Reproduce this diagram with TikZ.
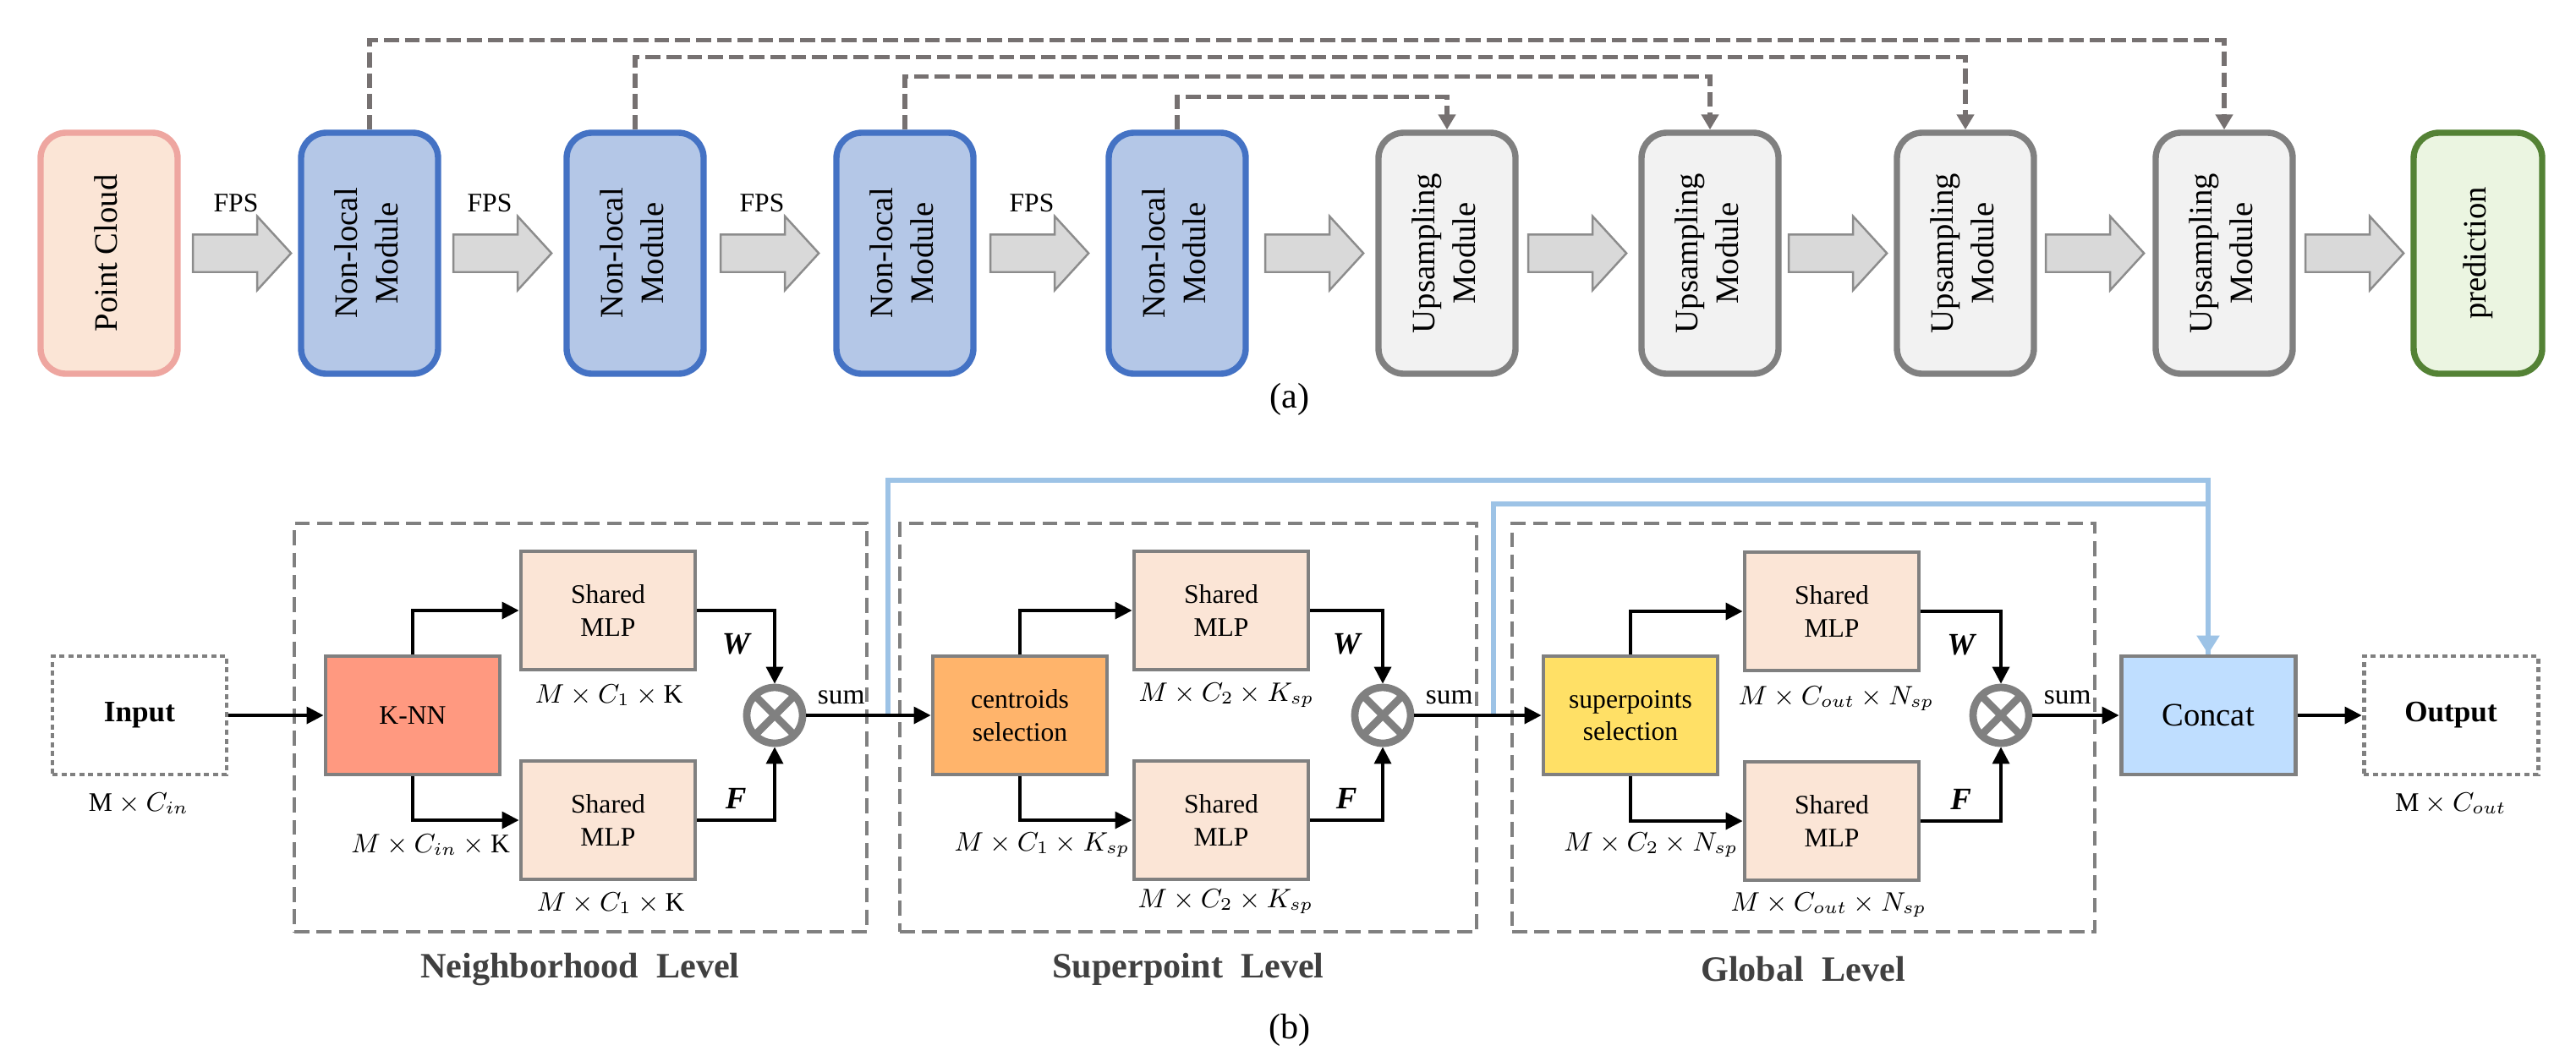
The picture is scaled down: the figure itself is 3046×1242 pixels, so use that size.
\documentclass[tikz,border=0pt]{standalone}
\usepackage{fontspec}
\setmainfont{Liberation Serif}
\usepackage{graphicx}
\usetikzlibrary{arrows.meta,shapes.arrows}

\definecolor{pcdraw}{RGB}{238,166,160}
\definecolor{pcfill}{RGB}{251,229,214}
\definecolor{nldraw}{RGB}{68,114,196}
\definecolor{nlfill}{RGB}{180,199,231}
\definecolor{updraw}{RGB}{128,128,128}
\definecolor{upfill}{RGB}{242,242,242}
\definecolor{preddraw}{RGB}{84,130,53}
\definecolor{predfill}{RGB}{235,245,225}
\definecolor{arrdraw}{RGB}{140,140,140}
\definecolor{arrfill}{RGB}{217,217,217}
\definecolor{skipgray}{RGB}{118,113,113}
\definecolor{boxgray}{RGB}{128,128,128}
\definecolor{mlpfill}{RGB}{251,229,214}
\definecolor{knnfill}{RGB}{255,153,128}
\definecolor{cenfill}{RGB}{255,180,107}
\definecolor{spfill}{RGB}{255,224,102}
\definecolor{catfill}{RGB}{191,222,255}
\definecolor{catblue}{RGB}{157,195,230}
\definecolor{lvltext}{RGB}{64,64,64}

\newcommand{\vtext}[1]{\rotatebox{90}{\begin{tabular}{@{}c@{}}#1\end{tabular}}}

\begin{document}
\begin{tikzpicture}[x=0.1mm,y=-0.1mm,
  mod/.style={draw,line width=2.1pt,rounded corners=3mm,minimum width=1.62cm,minimum height=2.85cm,inner sep=0pt,font=\fontsize{11}{13.6}\selectfont},
  fat/.style={single arrow,draw=arrdraw,fill=arrfill,line width=0.7pt,minimum height=1.16cm,inner xsep=0pt,inner ysep=0.21cm,single arrow head extend=0.215cm,single arrow tip angle=95},
  fps/.style={font=\fontsize{9}{11}\selectfont},
  skiparr/.style={skipgray,line width=1.5pt,dash pattern=on 5pt off 2pt,-{Triangle[length=0.18cm,width=0.2cm]}},
  blk/.style={draw=boxgray,line width=1.4pt,minimum width=2.06cm,minimum height=1.4cm,align=center,inner sep=1pt,font=\fontsize{9}{11}\selectfont},
  io/.style={draw=boxgray,line width=1.4pt,dash pattern=on 1.7pt off 1.3pt,minimum width=2.06cm,minimum height=1.4cm,font=\fontsize{10}{12}\selectfont\bfseries},
  mul/.style={circle,draw=boxgray,fill=white,line width=2.5pt,minimum size=0.66cm,inner sep=0pt,
    path picture={\draw[boxgray,line width=2.5pt] (path picture bounding box.north west) -- (path picture bounding box.south east)
      (path picture bounding box.south west) -- (path picture bounding box.north east);}},
  lvl/.style={draw=boxgray,line width=1.3pt,dash pattern=on 5pt off 2.5pt},
  lvlname/.style={text=lvltext,font=\fontsize{12}{14}\selectfont\bfseries},
  dim/.style={font=\fontsize{9}{11}\selectfont},
  wf/.style={font=\fontsize{10.5}{12}\selectfont\bfseries\itshape},
  sumt/.style={font=\fontsize{9.5}{11}\selectfont},
  con/.style={line width=1pt,-{Triangle[length=0.2cm,width=0.2cm]}},
  catline/.style={catblue,line width=1.7pt},
]
\useasboundingbox (0,0) rectangle (3046,1242);

% (a) encoder / decoder
\node[mod,draw=pcdraw,fill=pcfill] (pc) at (129,299.5) {\vtext{Point Cloud}};
\node[mod,draw=nldraw,fill=nlfill] (nl1) at (437,299.5) {\vtext{Non-local\\Module}};
\node[mod,draw=nldraw,fill=nlfill] (nl2) at (751,299.5) {\vtext{Non-local\\Module}};
\node[mod,draw=nldraw,fill=nlfill] (nl3) at (1070,299.5) {\vtext{Non-local\\Module}};
\node[mod,draw=nldraw,fill=nlfill] (nl4) at (1392,299.5) {\vtext{Non-local\\Module}};
\node[mod,draw=updraw,fill=upfill] (up1) at (1711,299.5) {\vtext{Upsampling\\Module}};
\node[mod,draw=updraw,fill=upfill] (up2) at (2022,299.5) {\vtext{Upsampling\\Module}};
\node[mod,draw=updraw,fill=upfill] (up3) at (2324,299.5) {\vtext{Upsampling\\Module}};
\node[mod,draw=updraw,fill=upfill] (up4) at (2630,299.5) {\vtext{Upsampling\\Module}};
\node[mod,draw=preddraw,fill=predfill,minimum width=1.52cm] (pred) at (2930,299.5) {\vtext{prediction}};

\node[fat] (a1) at (276,299.5) {};
\node[fat] (a2) at (584,299.5) {};
\node[fat] (a3) at (900,299.5) {};
\node[fat] (a4) at (1219,299.5) {};
\node[fat] (a5) at (1544,299.5) {};
\node[fat] (a6) at (1855,299.5) {};
\node[fat] (a7) at (2163,299.5) {};
\node[fat] (a8) at (2467,299.5) {};
\node[fat] (a9) at (2774,299.5) {};
\node[fps] (fps1) at (279,240) {FPS};
\node[fps] (fps2) at (579,240) {FPS};
\node[fps] (fps3) at (901,240) {FPS};
\node[fps] (fps4) at (1220,240) {FPS};

\draw[skiparr] (nl1.north) -- ++(0,-106) -| (up4.north);
\draw[skiparr] (nl2.north) -- ++(0,-86) -| (up3.north);
\draw[skiparr] (nl3.north) -- ++(0,-63) -| (up2.north);
\draw[skiparr] (nl4.north) -- ++(0,-39) -| (up1.north);

\node[font=\fontsize{12}{14}\selectfont] (capa) at (1525,472) {(a)};

% (b) non-local module
\node[lvl,minimum width=6.77cm,minimum height=4.83cm] (lvl1) at (686.5,860.5) {};
\node[lvl,minimum width=6.82cm,minimum height=4.83cm] (lvl2) at (1405,860.5) {};
\node[lvl,minimum width=6.89cm,minimum height=4.83cm] (lvl3) at (2132.5,860.5) {};
\node[lvlname] (n1) at (686,1146) {Neighborhood\ \ Level};
\node[lvlname] (n2) at (1405,1146) {Superpoint\ \ Level};
\node[lvlname] (n3) at (2132,1146) {Global\ \ Level};

\node[io] (input) at (165,846) {Input};
\node[blk,fill=knnfill] (knn) at (488,846) {K-NN};
\node[blk,fill=mlpfill] (mlpw1) at (719,722) {Shared\\MLP};
\node[blk,fill=mlpfill] (mlpf1) at (719,970) {Shared\\MLP};
\node[mul] (mul1) at (916,846) {};
\node[blk,fill=cenfill] (cen) at (1206,846) {centroids\\selection};
\node[blk,fill=mlpfill] (mlpw2) at (1444,722) {Shared\\MLP};
\node[blk,fill=mlpfill] (mlpf2) at (1444,970) {Shared\\MLP};
\node[mul] (mul2) at (1635,846) {};
\node[blk,fill=spfill] (spsel) at (1928,846) {superpoints\\selection};
\node[blk,fill=mlpfill] (mlpw3) at (2166,723) {Shared\\MLP};
\node[blk,fill=mlpfill] (mlpf3) at (2166,971) {Shared\\MLP};
\node[mul] (mul3) at (2366,846) {};
\node[blk,fill=catfill,font=\fontsize{11}{13}\selectfont] (concat) at (2611,846) {Concat};
\node[io] (output) at (2898,846) {Output};

\node[dim] (din) at (164,950) {$\mathrm{M}\times C_{in}$};
\node[dim] (d1a) at (720,822) {$M\times C_1\times\mathrm{K}$};
\node[dim] (d1b) at (509,999) {$M\times C_{in}\times\mathrm{K}$};
\node[dim] (d1c) at (722,1068) {$M\times C_1\times\mathrm{K}$};
\node[dim] (d2a) at (1450,822) {$M\times C_2\times K_{sp}$};
\node[dim] (d2b) at (1232,999) {$M\times C_1\times K_{sp}$};
\node[dim] (d2c) at (1449,1066) {$M\times C_2\times K_{sp}$};
\node[dim] (d3a) at (2171,826) {$M\times C_{out}\times N_{sp}$};
\node[dim] (d3b) at (1952,999) {$M\times C_2\times N_{sp}$};
\node[dim] (d3c) at (2162,1070) {$M\times C_{out}\times N_{sp}$};
\node[dim] (dout) at (2898,950) {$\mathrm{M}\times C_{out}$};

% skip to concat
\coordinate (c1) at (1050,846);
\coordinate (c2) at (1766,846);
\draw[catline] (c2) -- ++(0,-250) -| (concat.north);
\draw[catline,-{Triangle[length=0.22cm,width=0.26cm]}] (c1) -- ++(0,-278) -| (concat.north);

\draw[con] (input.east) -- (knn.west);
\draw[con] (knn.north) |- (mlpw1.west);
\draw[con] (knn.south) |- (mlpf1.west);
\draw[con] (mlpw1.east) -| node[wf,pos=0.25,below=4pt] (lw1) {W} (mul1.north);
\draw[con] (mlpf1.east) -| node[wf,pos=0.25,above] (lf1) {F} (mul1.south);
\draw[con] (mul1.east) -- node[sumt,pos=0,above right] (ls1) {sum} (cen.west);

\draw[con] (cen.north) |- (mlpw2.west);
\draw[con] (cen.south) |- (mlpf2.west);
\draw[con] (mlpw2.east) -| node[wf,pos=0.25,below=4pt] (lw2) {W} (mul2.north);
\draw[con] (mlpf2.east) -| node[wf,pos=0.25,above] (lf2) {F} (mul2.south);
\draw[con] (mul2.east) -- node[sumt,pos=0,above right] (ls2) {sum} (spsel.west);

\draw[con] (spsel.north) |- (mlpw3.west);
\draw[con] (spsel.south) |- (mlpf3.west);
\draw[con] (mlpw3.east) -| node[wf,pos=0.25,below=4pt] (lw3) {W} (mul3.north);
\draw[con] (mlpf3.east) -| node[wf,pos=0.25,above] (lf3) {F} (mul3.south);
\draw[con] (mul3.east) -- node[sumt,pos=0,above right] (ls3) {sum} (concat.west);
\draw[con] (concat.east) -- (output.west);

\node[font=\fontsize{12}{14}\selectfont] (capb) at (1525,1218) {(b)};
\end{tikzpicture}
\end{document}
